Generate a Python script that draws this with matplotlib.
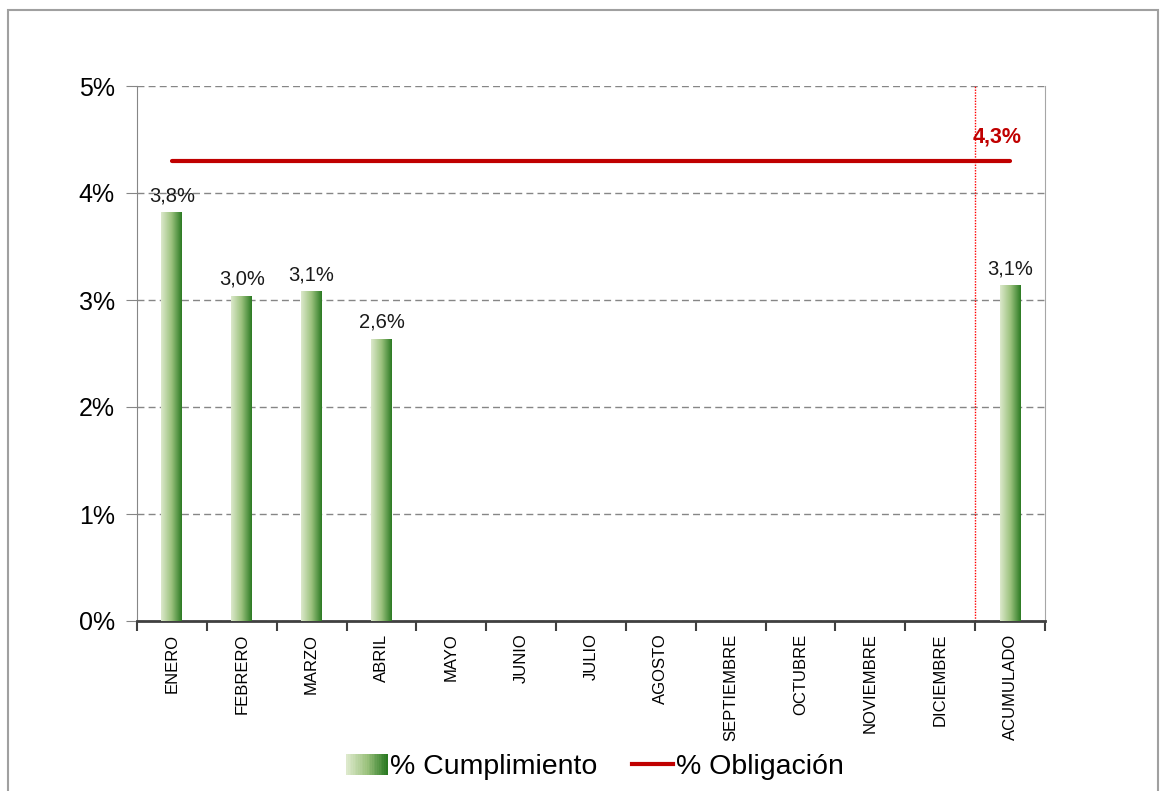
import matplotlib
matplotlib.use("Agg")
import matplotlib.pyplot as plt
import numpy as np
from matplotlib.patches import Rectangle
from matplotlib.lines import Line2D
from matplotlib.colors import LinearSegmentedColormap
from matplotlib.legend_handler import HandlerBase

plt.rcParams['font.family'] = ['Liberation Sans', 'DejaVu Sans']

categorias = ["ENERO", "FEBRERO", "MARZO", "ABRIL", "MAYO", "JUNIO", "JULIO",
              "AGOSTO", "SEPTIEMBRE", "OCTUBRE", "NOVIEMBRE", "DICIEMBRE", "ACUMULADO"]
cumplimiento = [3.82, 3.04, 3.08, 2.64, None, None, None, None, None, None, None, None, 3.14]
etiquetas = ["3,8%", "3,0%", "3,1%", "2,6%", "", "", "", "", "", "", "", "", "3,1%"]
obligacion = [4.3, 4.3, 4.3, 4.3, 4.3, 4.3, 4.3, 4.3, 4.3, 4.3, 4.3, 4.3, 4.3]
etiqueta_obligacion = "4,3%"
yticks = [0, 1, 2, 3, 4, 5]
ytick_labels = ["0%", "1%", "2%", "3%", "4%", "5%"]

W, H = 1161, 791
fig = plt.figure(figsize=(W / 100, H / 100), dpi=100)
ax = fig.add_axes([137 / W, (H - 621) / H, (1045 - 137) / W, (621 - 86) / H])

cmap = LinearSegmentedColormap.from_list("g", ["#dde9cc", "#9cc27e", "#2b7a22"])
grad = np.linspace(0, 1, 256).reshape(1, -1)

x = np.arange(len(categorias))
bw = 0.30
for xi, v, lab in zip(x, cumplimiento, etiquetas):
    if v is None:
        continue
    rect = ax.bar(xi, v, width=bw, color="none", edgecolor="none", zorder=3)[0]
    im = ax.imshow(grad, cmap=cmap, aspect="auto",
                   extent=[xi - bw / 2, xi + bw / 2, 0, v], zorder=3)
    im.set_clip_path(rect)
    ax.annotate(lab, (xi, v), xytext=(0, 5), textcoords="offset points",
                ha="center", va="bottom", fontsize=14.5, color="#1a1a1a")

ax.plot(x, obligacion, color="#c00000", lw=3, solid_capstyle="round", zorder=4)
ax.annotate(etiqueta_obligacion, (x[-1], obligacion[-1]), xytext=(-9, 10),
            textcoords="offset points", ha="center", va="bottom",
            fontsize=15.5, fontweight="bold", color="#c00000")

ax.axvline(11.5, color="#ff0000", lw=1, ls=(0, (1, 1)), zorder=2)

ax.set_xlim(-0.5, len(categorias) - 0.5)
ax.set_ylim(0, 5)
ax.set_yticks(yticks)
ax.set_yticklabels(ytick_labels, fontsize=18)
ax.yaxis.grid(True, color="#868686", ls=(0, (5, 3)), lw=1)
ax.set_axisbelow(True)

ax.set_xticks(x)
ax.set_xticklabels(categorias, rotation=90, fontsize=12)
ax.set_xticks(np.arange(-0.5, len(categorias)), minor=True)
ax.tick_params(axis="x", which="major", length=0, pad=9)
ax.tick_params(axis="x", which="minor", length=7, color="#404040", width=1.5)
ax.tick_params(axis="y", length=8, color="#868686", pad=8)

ax.spines["top"].set_visible(False)
ax.spines["left"].set_color("#868686")
ax.spines["right"].set_color("#a6a6a6")
ax.spines["bottom"].set_color("#404040")
ax.spines["bottom"].set_linewidth(2)

class GradHandler(HandlerBase):
    def create_artists(self, legend, orig_handle, xdescent, ydescent, width, height, fontsize, trans):
        arts = []
        n = 24
        for i in range(n):
            r = Rectangle((-xdescent + width * i / n, -ydescent), width / n + 0.3, height,
                          facecolor=cmap(i / (n - 1)), edgecolor="none", transform=trans)
            arts.append(r)
        return arts

h1 = Rectangle((0, 0), 1, 1)
h2 = Line2D([0], [0], color="#c00000", lw=3)
fig.legend([h1, h2], ["% Cumplimiento", "% Obligación"],
           handler_map={Rectangle: GradHandler()},
           loc="center", bbox_to_anchor=(595 / W, 1 - 767 / H), ncol=2, frameon=False,
           fontsize=20.5, handlelength=1.45, handletextpad=0.1, columnspacing=1.2,
           handleheight=0.75)

frame = Rectangle((8 / W, -0.05), (1158 - 8) / W, 1.05 - 10 / H, transform=fig.transFigure,
                  fill=False, edgecolor="#a0a0a0", lw=1.5, clip_on=False)
fig.patches.append(frame)

fig.savefig("out.png", dpi=100)
